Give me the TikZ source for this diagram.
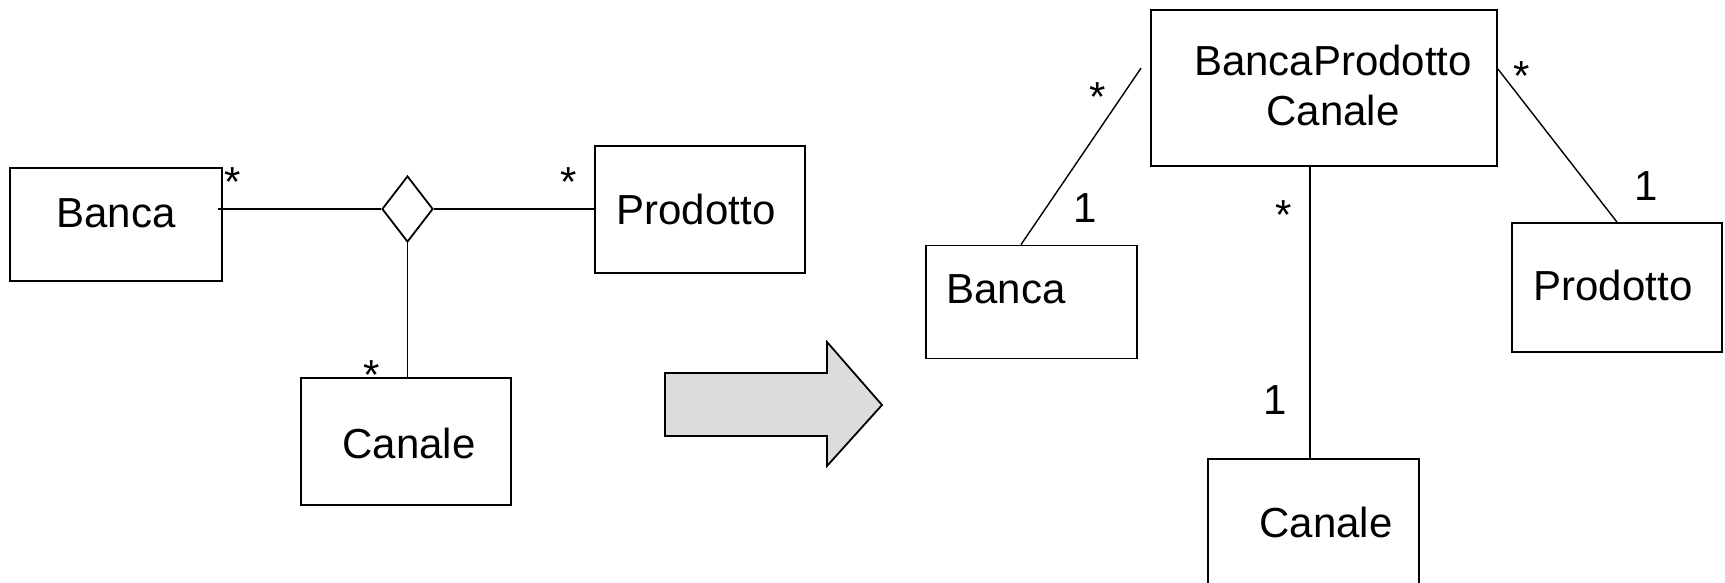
\documentclass[tikz,border=0pt]{standalone}
\usepackage{fontspec}
\setmainfont{Liberation Sans}
\usepackage{tikz}
\usetikzlibrary{shapes.geometric,calc}
\definecolor{arrowgray}{RGB}{220,220,220}

\begin{document}
\begin{tikzpicture}[
  x=0.5pt, y=-0.5pt,
  font=\fontsize{21}{25}\selectfont,
  classbox/.style={draw, rectangle, line width=0.9pt, inner sep=0pt},
  assoc/.style={draw, diamond, line width=0.9pt, inner sep=0pt, aspect=0.77,
    minimum width=25.5pt, minimum height=33pt},
  link/.style={line width=0.7pt},
  mult/.style={anchor=base, inner sep=0pt}
]
  \useasboundingbox (0,0) rectangle (1725,583);
  \clip (0,0) rectangle (1725,583);

  \node[classbox, minimum width=106pt, minimum height=56.5pt,
    label={[yshift=5.75pt]center:Banca}] (bancaL) at (116,224.5) {};
  \node[classbox, minimum width=105pt, minimum height=63.5pt,
    label={[xshift=-2pt]center:Prodotto}] (prodL) at (700,209.5) {};
  \node[classbox, minimum width=105pt, minimum height=63.5pt,
    label={[xshift=1.5pt, yshift=-1pt]center:Canale}] (canaleL) at (406,441.5) {};
  \node[assoc] (rel) at (407.5,209) {};

  \draw[link] ($(bancaL.east |- rel.west)+(-5,0)$) -- (rel.west);
  \draw[link] (rel.east) -- (rel.east -| prodL.west);
  \draw[link] (rel.south) -- (rel.south |- canaleL.north);

  \node[mult] (mBancaL) at (233,197) {*};
  \node[mult] (mProdL) at (569,197) {*};
  \node[mult] (mCanaleL) at (372,389) {*};

  \draw[line width=0.9pt, fill=arrowgray]
    (665,373) -- (827,373) -- (827,342) -- (882,405)
    -- (827,466) -- (827,436) -- (665,436) -- cycle;

  \node[classbox, minimum width=173pt, minimum height=78pt,
    label={[xshift=4.5pt, yshift=1.25pt, align=center]center:BancaProdotto\\Canale}]
    (bpc) at (1324,88) {};
  \node[classbox, minimum width=105.5pt, minimum height=56.5pt,
    label={[xshift=-12.75pt, yshift=6.5pt]center:Banca}] (bancaR) at (1031.5,302) {};
  \node[classbox, minimum width=105pt, minimum height=64.5pt,
    label={[xshift=-2pt, yshift=1pt]center:Prodotto}] (prodR) at (1617,287.5) {};
  \node[classbox, minimum width=105.5pt, minimum height=63.5pt,
    label={[xshift=6.25pt]center:Canale}] (canaleR) at (1313.5,522.5) {};

  \draw[link] ($(bpc.west)+(-9,-20)$) -- ($(bancaR.north)+(-10.5,0)$);
  \draw[link] ($(bpc.east)+(0,-19)$) -- (prodR.north);
  \draw[link] ($(canaleR.north)+(-3.5,0)$) -- ($(canaleR.north |- bpc.south)+(-3.5,0)$);

  \node[mult] (mBancaR) at (1098,112) {*};
  \node[mult] (oBancaR) at (1085,222) {1};
  \node[mult] (mCanaleR) at (1284,229) {*};
  \node[mult] (oCanaleR) at (1275,414) {1};
  \node[mult] (mProdR) at (1522,91) {*};
  \node[mult] (oProdR) at (1646,200) {1};
\end{tikzpicture}
\end{document}
